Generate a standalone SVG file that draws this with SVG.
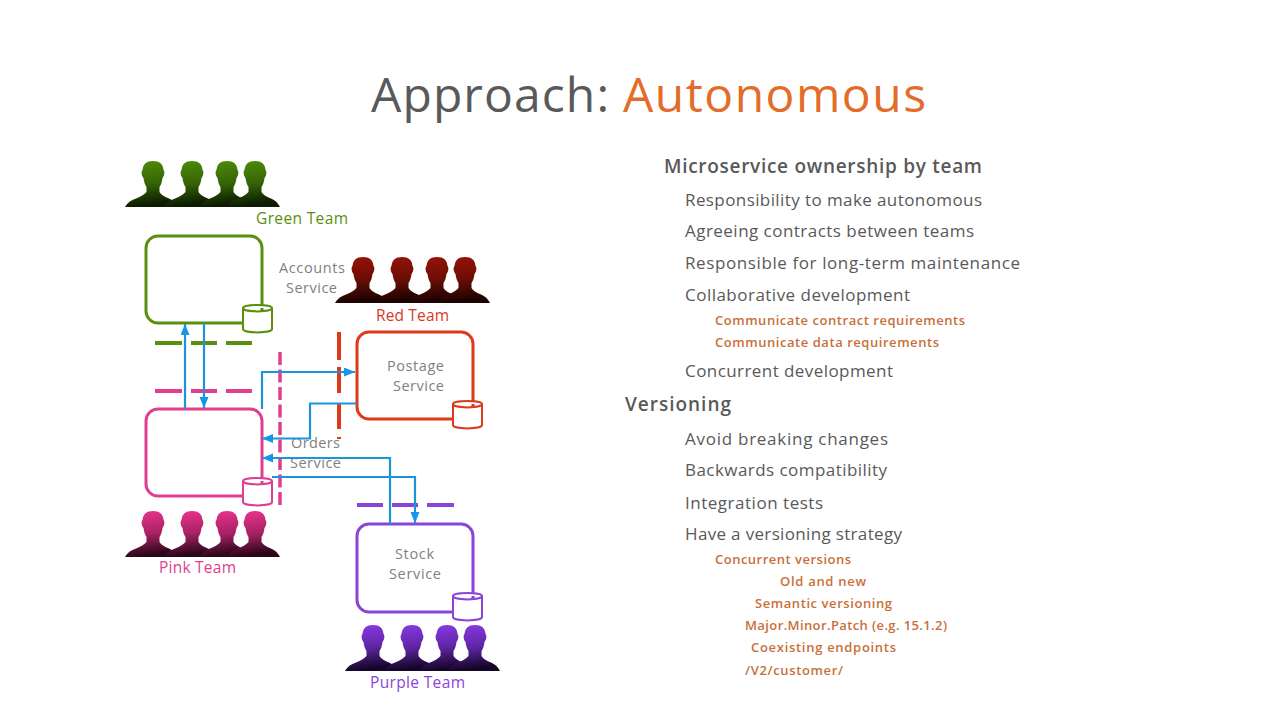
<svg xmlns="http://www.w3.org/2000/svg" width="1280" height="720" viewBox="0 0 1280 720">
<style>
text{font-family:"Open Sans","Liberation Sans",sans-serif}
.title{font-size:48px;fill:#595959}
.h1{font-size:19px;font-weight:600;fill:#595959}
.h2{font-size:17px;fill:#595959}
.h3{font-size:13px;font-weight:600;fill:#c8703a}
.svc{font-size:14.500px;fill:#7f7f7f}
.team{font-size:15.500px}
.box{fill:#fff;stroke-width:3}
.db{fill:#fff;stroke-width:2}
.dash{fill:none;stroke-width:4}
.thin{stroke-width:3.500}
.green{stroke:#5a8f0f}.red{stroke:#dc3a1b}.pink{stroke:#e03f90}.purple{stroke:#8a45d8}
.link{fill:none;stroke:#1f93d8;stroke-width:2.200}
</style>
<defs>
<linearGradient id="gGreen" x1="0" y1="0" x2="0.15" y2="1"><stop offset="0" stop-color="#4f8f08"/><stop offset="0.55" stop-color="#356406"/><stop offset="1" stop-color="#0c1a02"/></linearGradient>
<linearGradient id="gRed" x1="0" y1="0" x2="0.15" y2="1"><stop offset="0" stop-color="#9a1408"/><stop offset="0.55" stop-color="#6c0d05"/><stop offset="1" stop-color="#1a0301"/></linearGradient>
<linearGradient id="gPink" x1="0" y1="0" x2="0.15" y2="1"><stop offset="0" stop-color="#ee3590"/><stop offset="0.55" stop-color="#a82264"/><stop offset="1" stop-color="#2a0618"/></linearGradient>
<linearGradient id="gPurple" x1="0" y1="0" x2="0.15" y2="1"><stop offset="0" stop-color="#8c3bea"/><stop offset="0.55" stop-color="#5e25a2"/><stop offset="1" stop-color="#150528"/></linearGradient>
<path id="person" d="M0 0C-6.500 0-10 3-10.500 9C-12 10-11.500 15-9.500 17C-9 21-8 24-6.500 26L-6.500 31C-9 34-13 36-17 37.500C-22 39-26 42-28 46L25 46C23 42 20 39 16 37.500C12 36 8 34 6.500 31L6.500 26C8 24 9 21 9.500 17C11.500 15 12 10 10.500 9C10 3 6.500 0 0 0Z"/>
<g id="crowd">
<use href="#person" x="28" y="0"/><use href="#person" x="67" y="0"/><use href="#person" x="102" y="0"/><use href="#person" x="130" y="0"/>
</g>
<path id="can" d="M0 4C0 0 29 0 29 4V25C29 29.500 0 29.500 0 25ZM0 4C0 8.500 29 8.500 29 4"/>
<marker id="arrow" markerUnits="userSpaceOnUse" markerWidth="12" markerHeight="10" refX="11" refY="4.500" orient="auto"><path d="M0 0L11 4.500L0 9Z" fill="#1795e6"/></marker>
</defs>

<g id="title">
<text class="title" x="371" y="112" textLength="238">Approach:</text>
<text class="title" x="623" y="112" textLength="303" style="fill:#e46c2a">Autonomous</text>
</g>

<g id="green-team">
<use href="#crowd" x="125" y="161" fill="url(#gGreen)"/>
<text class="team" x="256" y="224" textLength="92" fill="#5a8f0f">Green Team</text>
</g>
<g id="accounts-service">
<rect class="box green" x="146" y="236" width="116" height="87" rx="12"/>
<use href="#can" class="db green" x="243" y="304"/>
<text class="svc" x="279" y="273" textLength="66">Accounts</text>
<text class="svc" x="286" y="293" textLength="51">Service</text>
</g>
<g id="red-team">
<use href="#crowd" x="335" y="257" fill="url(#gRed)"/>
<text class="team" x="376" y="321" textLength="73" fill="#d9381e">Red Team</text>
</g>
<g id="postage-service">
<rect class="box red" x="357" y="332" width="116" height="87" rx="12"/>
<use href="#can" class="db red" x="453" y="400"/>
<text class="svc" x="387" y="371" textLength="57">Postage</text>
<text class="svc" x="393" y="391" textLength="51">Service</text>
</g>
<g id="orders-service">
<rect class="box pink" x="146" y="409" width="116" height="87" rx="12"/>
<use href="#can" class="db pink" x="243" y="477"/>
<text class="svc" x="291" y="448" textLength="49">Orders</text>
<text class="svc" x="290" y="468" textLength="51">Service</text>
</g>
<g id="pink-team">
<use href="#crowd" x="125" y="511" fill="url(#gPink)"/>
<text class="team" x="159" y="573" textLength="77" fill="#e0408f">Pink Team</text>
</g>
<g id="stock-service">
<rect class="box purple" x="357" y="524" width="116" height="88" rx="12"/>
<use href="#can" class="db purple" x="453" y="592"/>
<text class="svc" x="395" y="559" textLength="39">Stock</text>
<text class="svc" x="389" y="579" textLength="52">Service</text>
</g>
<g id="purple-team">
<use href="#crowd" x="345" y="625" fill="url(#gPurple)"/>
<text class="team" x="370" y="688" textLength="95" fill="#8a45d8">Purple Team</text>
</g>

<g id="boundaries">
<path class="dash green" d="M155 343H182M191 343H217M226 343H252"/>
<path class="dash pink" d="M155 391H182M191 391H217M226 391H252"/>
<path class="dash purple" d="M357 505H383M392 505H418M427 505H454"/>
<path class="dash red" d="M339 332V360M339 367V393M339 403V429M339 437V439"/>
<path class="dash thin pink" d="M280 352V505" stroke-dasharray="13 4.500"/>
</g>

<g id="connectors">
<path class="link" d="M185 409V324" marker-end="url(#arrow)"/>
<path class="link" d="M204 323V408" marker-end="url(#arrow)"/>
<path class="link" d="M262 409V372H355" marker-end="url(#arrow)"/>
<path class="link" d="M357 403.500H310V438.500H262" marker-end="url(#arrow)"/>
<path class="link" d="M390 524V458H262" marker-end="url(#arrow)"/>
<path class="link" d="M272 477H415V523" marker-end="url(#arrow)"/>
</g>

<g id="notes">
<text class="h1" x="664" y="173" textLength="318">Microservice ownership by team</text>
<text class="h2" x="685" y="206" textLength="297">Responsibility to make autonomous</text>
<text class="h2" x="685" y="237" textLength="289">Agreeing contracts between teams</text>
<text class="h2" x="685" y="269" textLength="335">Responsible for long-term maintenance</text>
<text class="h2" x="685" y="301" textLength="225">Collaborative development</text>
<text class="h3" x="715" y="325" textLength="250">Communicate contract requirements</text>
<text class="h3" x="715" y="347" textLength="224">Communicate data requirements</text>
<text class="h2" x="685" y="377" textLength="208">Concurrent development</text>
<text class="h1" x="625" y="411" textLength="106">Versioning</text>
<text class="h2" x="685" y="445" textLength="203">Avoid breaking changes</text>
<text class="h2" x="685" y="476" textLength="202">Backwards compatibility</text>
<text class="h2" x="685" y="509" textLength="138">Integration tests</text>
<text class="h2" x="685" y="540" textLength="217">Have a versioning strategy</text>
<text class="h3" x="715" y="564" textLength="136">Concurrent versions</text>
<text class="h3" x="780" y="586" textLength="86">Old and new</text>
<text class="h3" x="755" y="608" textLength="137">Semantic versioning</text>
<text class="h3" x="745" y="630" textLength="202">Major.Minor.Patch (e.g. 15.1.2)</text>
<text class="h3" x="751" y="652" textLength="145">Coexisting endpoints</text>
<text class="h3" x="745" y="675" textLength="98">/V2/customer/</text>
</g>
</svg>
